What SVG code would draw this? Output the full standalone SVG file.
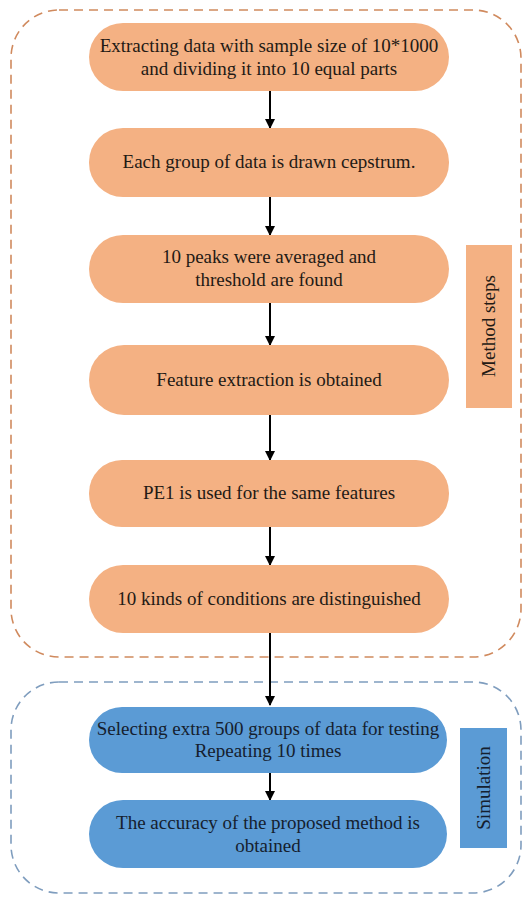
<svg xmlns="http://www.w3.org/2000/svg" width="527" height="897" viewBox="0 0 527 897">
<style>
  .bg{fill:#ffffff}
  .grp-o{fill:none;stroke:#D08A5E;stroke-width:1.6;stroke-dasharray:9 6}
  .grp-b{fill:none;stroke:#7F9DBE;stroke-width:1.6;stroke-dasharray:9 6}
  .node-o{fill:#F4B183}
  .node-b{fill:#5B9BD5}
  text{font-family:"Liberation Serif","Times New Roman","DejaVu Serif",serif;font-size:19px;fill:#231a15;text-anchor:middle}
  .lbl-b{fill:#15202e}
  .conn{stroke:#000;stroke-width:2;fill:none}
</style>
<defs>
  <marker id="ah" markerWidth="10" markerHeight="10" refX="9" refY="5" orient="auto" markerUnits="userSpaceOnUse">
    <path d="M0,0 L10,5 L0,10 Z" fill="#000"/>
  </marker>
</defs>
<rect class="bg" x="0" y="0" width="527" height="897"/>

<g id="method-group">
  <rect class="grp-o" x="11" y="10" width="510" height="647" rx="48" ry="48"/>
  <g id="method-label">
    <rect class="node-o" x="466" y="245" width="46" height="163"/>
    <text transform="translate(495,326) rotate(-90)">Method steps</text>
  </g>
</g>

<g id="simulation-group">
  <rect class="grp-b" x="11" y="682" width="510" height="211" rx="48" ry="48"/>
  <g id="simulation-label">
    <rect class="node-b" x="460" y="728" width="47" height="120"/>
    <text class="lbl-b" transform="translate(490,788) rotate(-90)">Simulation</text>
  </g>
</g>

<g id="connectors">
  <line class="conn" x1="270" y1="91" x2="270" y2="128" marker-end="url(#ah)"/>
  <line class="conn" x1="270" y1="197" x2="270" y2="235" marker-end="url(#ah)"/>
  <line class="conn" x1="270" y1="303" x2="270" y2="345" marker-end="url(#ah)"/>
  <line class="conn" x1="270" y1="415" x2="270" y2="460" marker-end="url(#ah)"/>
  <line class="conn" x1="270" y1="527" x2="270" y2="565" marker-end="url(#ah)"/>
  <line class="conn" x1="270" y1="633" x2="270" y2="705" marker-end="url(#ah)"/>
  <line class="conn" x1="270" y1="773" x2="270" y2="800" marker-end="url(#ah)"/>
</g>

<g id="n1">
  <rect class="node-o" x="89" y="23" width="360" height="68" rx="34" ry="34"/>
  <text x="269" y="52">Extracting data with sample size of 10*1000</text>
  <text x="269" y="75">and dividing it  into 10 equal parts</text>
</g>
<g id="n2">
  <rect class="node-o" x="89" y="128" width="360" height="69" rx="34" ry="34"/>
  <text x="269" y="168">Each group of data is drawn cepstrum.</text>
</g>
<g id="n3">
  <rect class="node-o" x="89" y="235" width="360" height="68" rx="34" ry="34"/>
  <text x="269" y="263">10 peaks were averaged and</text>
  <text x="269" y="286">threshold are found</text>
</g>
<g id="n4">
  <rect class="node-o" x="89" y="345" width="360" height="70" rx="35" ry="35"/>
  <text x="269" y="386">Feature extraction is obtained</text>
</g>
<g id="n5">
  <rect class="node-o" x="89" y="460" width="360" height="67" rx="33" ry="33"/>
  <text x="269" y="499">PE1 is used for the same features</text>
</g>
<g id="n6">
  <rect class="node-o" x="89" y="565" width="360" height="68" rx="34" ry="34"/>
  <text x="269" y="605">10 kinds of conditions are distinguished</text>
</g>
<g id="n7">
  <rect class="node-b" x="89" y="707" width="358" height="66" rx="33" ry="33"/>
  <text class="lbl-b" x="268" y="735">Selecting extra 500 groups of data for testing</text>
  <text class="lbl-b" x="268" y="757">Repeating 10 times</text>
</g>
<g id="n8">
  <rect class="node-b" x="89" y="800" width="358" height="68" rx="34" ry="34"/>
  <text class="lbl-b" x="268" y="829">The accuracy of the proposed method is</text>
  <text class="lbl-b" x="268" y="852">obtained</text>
</g>
</svg>
